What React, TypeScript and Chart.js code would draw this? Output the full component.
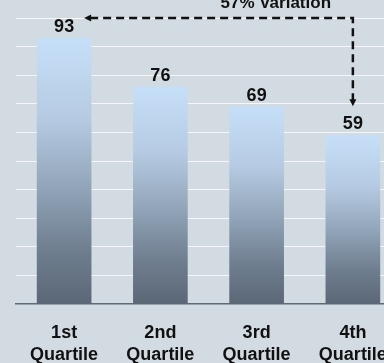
import React, { useEffect, useRef } from "react";
import { Chart, registerables } from "chart.js";

Chart.register(...registerables);

const categories: string[][] = [
  ["1st", "Quartile"],
  ["2nd", "Quartile"],
  ["3rd", "Quartile"],
  ["4th", "Quartile"],
];
const values: number[] = [93, 76, 69, 59];
const yMin = 0;
const yMax = 100;
const yStep = 10;
const variationLabel = "57% Variation";

const FONT = "'Liberation Sans', Arial, sans-serif";
const BG = "#d3dbe2";

const bgPlugin = {
  id: "bgFill",
  beforeDraw(chart: any) {
    const { ctx, width, height } = chart;
    ctx.save();
    ctx.fillStyle = BG;
    ctx.fillRect(0, 0, width, height);
    ctx.restore();
  },
};

const labelPlugin = {
  id: "labelsArrow",
  afterDraw(chart: any) {
    const { ctx } = chart;
    const meta = chart.getDatasetMeta(0);
    const yScale = chart.scales.y;
    const xScale = chart.scales.x;
    ctx.save();
    ctx.fillStyle = "#111";
    ctx.font = `bold 18px ${FONT}`;
    ctx.textAlign = "center";
    ctx.textBaseline = "alphabetic";
    meta.data.forEach((bar: any, i: number) => {
      ctx.fillText(String(values[i]), bar.x, bar.y - 6);
    });

    // category labels
    const axisY = chart.chartArea.bottom;
    categories.forEach((lines, i) => {
      const x = xScale.getPixelForTick(i);
      lines.forEach((line, j) => {
        ctx.fillText(line, x, axisY + 34 + j * 22);
      });
    });

    // arrow
    const first = meta.data[0];
    const last = meta.data[meta.data.length - 1];
    const yTop = Math.round(yScale.getPixelForValue(yMax));
    const leftTip = first.x + 20;
    const cornerX = last.x;
    const bottomTip = last.y - 29;
    ctx.strokeStyle = "#111";
    ctx.lineWidth = 2.5;
    ctx.setLineDash([8, 5]);
    ctx.beginPath();
    ctx.moveTo(leftTip + 6, yTop);
    ctx.lineTo(cornerX, yTop);
    ctx.lineTo(cornerX, bottomTip - 6);
    ctx.stroke();
    ctx.setLineDash([]);
    ctx.fillStyle = "#111";
    ctx.beginPath();
    ctx.moveTo(leftTip, yTop);
    ctx.lineTo(leftTip + 7, yTop - 3.5);
    ctx.lineTo(leftTip + 7, yTop + 3.5);
    ctx.closePath();
    ctx.fill();
    ctx.beginPath();
    ctx.moveTo(cornerX, bottomTip);
    ctx.lineTo(cornerX - 3.5, bottomTip - 7);
    ctx.lineTo(cornerX + 3.5, bottomTip - 7);
    ctx.closePath();
    ctx.fill();

    ctx.font = `bold 17px ${FONT}`;
    ctx.textAlign = "center";
    ctx.fillText(variationLabel, (meta.data[2].x + last.x) / 2 - 29, yTop - 10);
    ctx.restore();
  },
};

export default function App() {
  const ref = useRef<HTMLCanvasElement | null>(null);
  useEffect(() => {
    if (!ref.current) return;
    const chart = new Chart(ref.current, {
      type: "bar",
      data: {
        labels: categories,
        datasets: [
          {
            data: values,
            backgroundColor: (c: any) => {
              const chart = c.chart;
              const area = chart.chartArea;
              const ys = chart.scales && chart.scales.y;
              if (!area || !ys || c.dataIndex === undefined) return "#8fa3b9";
              const top = ys.getPixelForValue(values[c.dataIndex]);
              const bottom = ys.getPixelForValue(0);
              const g = chart.ctx.createLinearGradient(0, top, 0, bottom);
              g.addColorStop(0, "#c6dff8");
              g.addColorStop(0.3, "#b6cbe3");
              g.addColorStop(0.55, "#93a6bb");
              g.addColorStop(0.8, "#6f7e8f");
              g.addColorStop(1, "#5a6776");
              return g;
            },
            borderWidth: 0,
            categoryPercentage: 1,
            barPercentage: 0.568,
          },
        ],
      },
      options: {
        responsive: false,
        animation: false,
        devicePixelRatio: 1,
        layout: { padding: { left: 16, right: 3, top: 18, bottom: 59 } },
        plugins: {
          legend: { display: false },
          tooltip: { enabled: false },
          title: { display: false },
        },
        scales: {
          x: {
            grid: { display: false, drawTicks: false },
            border: { display: true, color: "#5f6a75", width: 1.5 },
            ticks: { display: false },
          },
          y: {
            min: yMin,
            max: yMax,
            ticks: { display: false, stepSize: yStep },
            grid: {
              color: (c: any) => (c.tick && c.tick.value === 0 ? "rgba(0,0,0,0)" : "#f4f6f8"),
              lineWidth: 1,
              drawTicks: false,
            },
            border: { display: false },
          },
        },
      },
      plugins: [bgPlugin, labelPlugin],
    });
    return () => chart.destroy();
  }, []);
  return (
    <div
      style={{
        position: "fixed",
        left: 0,
        top: 0,
        width: 384,
        height: 363,
        overflow: "hidden",
        background: BG,
      }}
    >
      <canvas ref={ref} width={404} height={363} style={{ width: 404, height: 363, display: "block" }} />
    </div>
  );
}
